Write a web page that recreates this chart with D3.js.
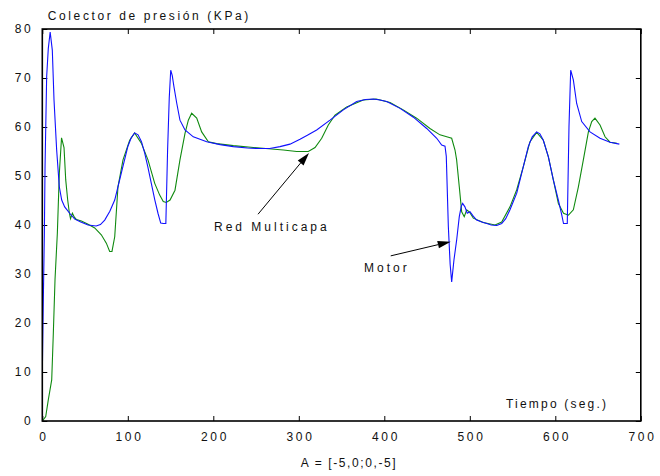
<!DOCTYPE html>
<html>
<head>
<meta charset="utf-8">
<script src="https://cdn.jsdelivr.net/npm/d3@7"></script>
<style>
  html, body { margin: 0; padding: 0; background: #fff; }
  svg { display: block; }
  text { font-family: "Liberation Sans", Arial, Helvetica, sans-serif; fill: #111; }
</style>
</head>
<body>
<svg id="chart" width="660" height="476"></svg>
<script>
// Manifold pressure over time: engine (Motor) vs. multilayer network (Red Multicapa)
const motorSeries = [
  [0, 9.5], [1.2, 24.7], [2.4, 38], [3.2, 51.9], [5.1, 70.3], [7, 76], [9.2, 79.4],
  [11.7, 75.7], [13.7, 65.5], [16.8, 55.3], [19.9, 47.8], [22.7, 45.1], [26.2, 43.7],
  [32, 42.4], [38, 41.2], [45, 40.6], [53.5, 40], [63, 39.8], [68, 40.1], [73, 41],
  [79, 42.8], [84.7, 45.1], [92.4, 50.6], [100, 56], [104, 57.8], [108, 58.8],
  [112, 58.4], [116, 57], [119.7, 54.7], [123.5, 51.8], [127.5, 48.5], [131.5, 45.2],
  [135.3, 42.4], [138.5, 40.4], [141.6, 40.3], [144.5, 40.3], [146.5, 55], [148.5, 66],
  [150.2, 71.6], [152, 70.5], [154, 68.2], [157.2, 64.9], [161, 61.4], [166.9, 59.4],
  [176.6, 58], [192.3, 57], [208, 56.4], [223.4, 56], [240, 55.7], [254.6, 55.6],
  [266, 55.6], [278, 56], [289.7, 56.5], [301.4, 57.5], [310, 58.3], [320.9, 59.4],
  [336.5, 61.4], [352.1, 63.5], [367.7, 65.2], [378, 65.6], [387.2, 65.7], [395, 65.5],
  [402.8, 65.2], [418.4, 63.8], [434, 62], [449.6, 59.7], [461.3, 57.7], [467.1, 56.3],
  [471, 56.1], [472.5, 54], [474.9, 39.7], [477, 32], [478.8, 28.4], [481.5, 32.9],
  [484.6, 36.9], [487.7, 41.7], [490, 43.8], [491.6, 44.4], [494.3, 43.7], [497, 42.4],
  [500.2, 42.7], [504, 41.8], [508, 41], [514, 40.6], [519.8, 40.3], [525, 40],
  [531.5, 39.9], [537.3, 40.3], [542, 41.3], [547, 43.1], [554.9, 46.5], [562.6, 51.9],
  [568.4, 56], [573, 58], [578.2, 59], [582, 58.6], [586, 57.3], [591.9, 53.9],
  [597.7, 49.2], [603.6, 45.1], [607.6, 42], [609.6, 40.3], [614, 40.3], [616, 60],
  [618, 71.6], [621.1, 69.6], [625, 64.8], [630.9, 61.1], [640.6, 59], [652.3, 57.7],
  [664, 56.9], [674.9, 56.5]
];

const redSeries = [
  [0, 0], [4, 0.9], [7, 4.3], [11, 8.4], [12.9, 17.9], [14.9, 29], [17.6, 38.3],
  [19.9, 50.5], [22.5, 57.8], [25.4, 55.8], [27.4, 49.2], [29.7, 45.1], [31.6, 42.5],
  [33, 41.3], [35.2, 42.4], [37.5, 41.6], [40, 41.1], [45.7, 40.8], [53, 40.2],
  [61.3, 39.4], [69, 38], [74.9, 36.3], [78.8, 34.6], [81.5, 34.6], [84.7, 37.6],
  [88.5, 47.8], [94.4, 53.3], [102.2, 57.3], [108, 58.8], [115.8, 56.7], [123.6, 53.3],
  [131.5, 48.5], [137.3, 46.1], [141.5, 44.8], [145, 44.6], [149.4, 45.1], [155.2, 47.1],
  [161, 53.3], [166.9, 58.7], [170.8, 61.4], [174.7, 62.8], [180.6, 61.8], [186.4, 59],
  [194.2, 57], [204, 56.6], [223.4, 56.2], [254.6, 55.7], [281.9, 55.3], [297.5, 55],
  [311.1, 55], [319, 55.8], [326.8, 57.7], [334.5, 60.4], [342.3, 62.4], [356, 64.1],
  [375.4, 65.5], [390.5, 65.7], [406.7, 65], [422.2, 63.5], [437.8, 61.8], [453.4, 59.7],
  [465.1, 58.4], [473, 58], [478.8, 57.7], [482.7, 55.3], [484.6, 53.3], [487.7, 47.8],
  [490.5, 42.7], [493.5, 41.7], [496.4, 43.1], [499.4, 42.7], [504.1, 41.4],
  [515.8, 40.5], [529.5, 40], [537.3, 40.6], [547, 43.7], [554.9, 47.2], [562.6, 51.9],
  [570.4, 57], [578.2, 58.9], [586, 57.3], [591.9, 53.9], [597.7, 49.2], [603.6, 44.4],
  [609.6, 42.4], [615.4, 42], [621.1, 43.1], [627, 47.8], [632.8, 53.3], [638.7, 59],
  [642.6, 61.1], [646.4, 61.8], [652.3, 60.4], [658.2, 58], [664, 56.9], [672, 56.7]
];

const xTicks = [0, 100, 200, 300, 400, 500, 600, 700];
const yTicks = [0, 10, 20, 30, 40, 50, 60, 70, 80];

const titleText = "Colector de presión (KPa)";
const xAxisText = "Tiempo (seg.)";
const captionText = "A = [-5,0;0,-5]";

// Callouts: label anchor and arrow (from -> tip) in data units
const callouts = [
  { text: "Red Multicapa", at: [200.8, 38.8], from: [252.3, 42.2], to: [311.9, 54.7] },
  { text: "Motor", at: [376.3, 30.4], from: [407.5, 33.7], to: [477.7, 36.6] }
];

const svg = d3.select("#chart");
const plotLeft = 42.3, plotRight = 640.8, plotTop = 29, plotBottom = 421;

const x = d3.scaleLinear().domain([0, 700]).range([plotLeft, plotRight]);
const y = d3.scaleLinear().domain([0, 80]).range([plotBottom, plotTop]);

const LS = "2.6px";

// Axes with inward ticks on all four sides
const gB = svg.append("g").attr("transform", `translate(0,${plotBottom})`)
  .call(d3.axisBottom(x).tickValues(xTicks).tickSizeInner(-5).tickSizeOuter(0).tickPadding(11).tickFormat(d3.format("d")));
const gT = svg.append("g").attr("transform", `translate(0,${plotTop})`)
  .call(d3.axisTop(x).tickValues(xTicks).tickSizeInner(-5).tickSizeOuter(0).tickFormat(""));
const gL = svg.append("g").attr("transform", `translate(${plotLeft},0)`)
  .call(d3.axisLeft(y).tickValues(yTicks).tickSizeInner(-5).tickSizeOuter(0).tickPadding(9).tickFormat(d3.format("d")));
const gR = svg.append("g").attr("transform", `translate(${plotRight},0)`)
  .call(d3.axisRight(y).tickValues(yTicks).tickSizeInner(-5).tickSizeOuter(0).tickFormat(""));

[gB, gT, gL, gR].forEach(g => {
  g.select(".domain").remove();
  g.selectAll(".tick line").attr("stroke", "#000").attr("stroke-width", 1);
  g.selectAll(".tick text")
    .attr("font-size", 12)
    .attr("fill", "#111")
    .style("letter-spacing", LS)
    .attr("font-family", null);
});
gB.selectAll(".tick text").attr("dx", "0.1em");

// Data lines
svg.append("clipPath").attr("id", "plotClip")
  .append("rect").attr("x", plotLeft).attr("y", plotTop - 2)
  .attr("width", plotRight - plotLeft).attr("height", plotBottom - plotTop + 2);

const line = d3.line().x(d => x(d[0])).y(d => y(d[1]));

const plot = svg.append("g").attr("clip-path", "url(#plotClip)");
plot.append("path").datum(redSeries)
  .attr("fill", "none").attr("stroke", "#108a10").attr("stroke-width", 1.1).attr("d", line);
plot.append("path").datum(motorSeries)
  .attr("fill", "none").attr("stroke", "#1010ff").attr("stroke-width", 1.1).attr("d", line);

// Frame
svg.append("rect")
  .attr("x", plotLeft).attr("y", plotTop).attr("width", plotRight - plotLeft).attr("height", plotBottom - plotTop)
  .attr("fill", "none").attr("stroke", "#000").attr("stroke-width", 1.6);

// Texts
svg.append("text").attr("x", plotLeft + 5.5).attr("y", 20)
  .attr("font-size", 12).style("letter-spacing", LS).text(titleText);
svg.append("text").attr("x", 506).attr("y", 408)
  .attr("font-size", 12).style("letter-spacing", "2.2px").text(xAxisText);
svg.append("text").attr("x", 349).attr("y", 467).attr("text-anchor", "middle")
  .attr("font-size", 12).style("letter-spacing", "1.6px").text(captionText);

// Callouts with arrows
callouts.forEach(c => {
  svg.append("text").attr("x", x(c.at[0])).attr("y", y(c.at[1]))
    .attr("font-size", 12).style("letter-spacing", "3px").text(c.text);
  const x0 = x(c.from[0]), y0 = y(c.from[1]);
  const x1 = x(c.to[0]), y1 = y(c.to[1]);
  const ang = Math.atan2(y1 - y0, x1 - x0);
  const hl = 13, hw = 3.8;
  const bx = x1 - hl * Math.cos(ang), by = y1 - hl * Math.sin(ang);
  svg.append("line").attr("x1", x0).attr("y1", y0).attr("x2", bx).attr("y2", by)
    .attr("stroke", "#000").attr("stroke-width", 1);
  const pts = [
    [x1, y1],
    [bx + hw * Math.sin(ang), by - hw * Math.cos(ang)],
    [bx - hw * Math.sin(ang), by + hw * Math.cos(ang)]
  ];
  svg.append("polygon").attr("points", pts.map(p => p.join(",")).join(" ")).attr("fill", "#000");
});
</script>
</body>
</html>
